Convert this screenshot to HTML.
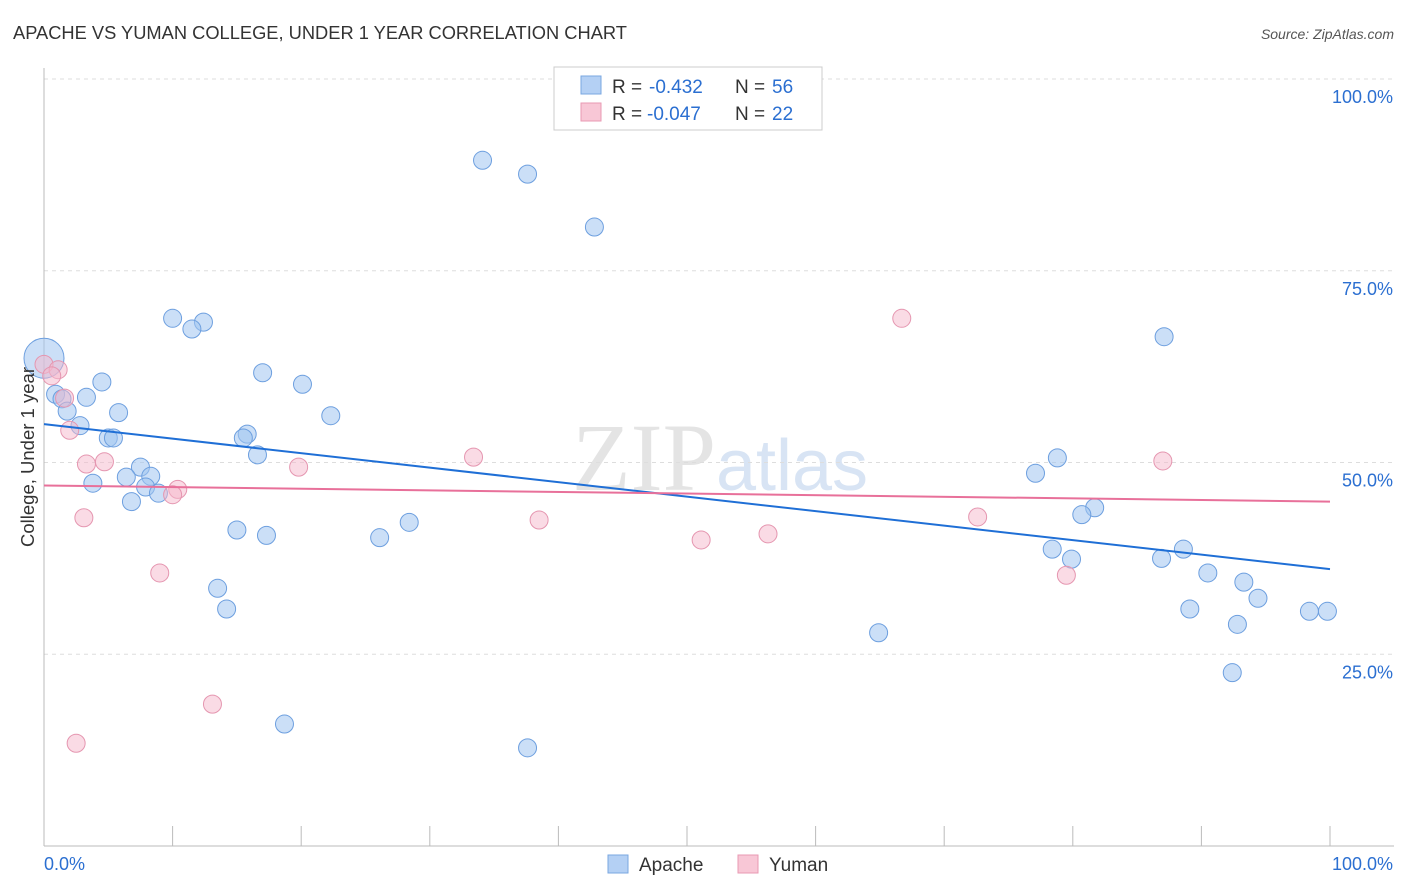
<!DOCTYPE html>
<html><head><meta charset="utf-8"><style>
body{margin:0;background:#fff;font-family:"Liberation Sans",sans-serif}
svg{display:block}
</style></head><body>
<svg id="chart" width="1406" height="892">
<text x="13" y="39" font-size="18.3" fill="#333">APACHE VS YUMAN COLLEGE, UNDER 1 YEAR CORRELATION CHART</text>
<text x="1394" y="39" font-size="14" fill="#555" font-style="italic" text-anchor="end">Source: ZipAtlas.com</text>
<text x="720" y="490" font-size="96" fill="#e4e4e4" text-anchor="middle" font-family="Liberation Serif,serif">ZIP<tspan fill="#d8e4f4" font-family="Liberation Sans,sans-serif" font-size="72">atlas</tspan></text>
<g id="grid"></g><g id="marks"></g>
<text transform="translate(34,457) rotate(-90)" font-size="18.5" fill="#333" text-anchor="middle">College, Under 1 year</text>
<g>
<rect x="554" y="67" width="268" height="63" fill="#fff" stroke="#ccc"/>
<rect x="581" y="76" width="20" height="18" fill="#b4d0f4" stroke="#7aa7e0"/>
<text x="612" y="93" font-size="19" fill="#333">R =</text>
<text x="649" y="93" font-size="19" fill="#2b6fd1">-0.432</text>
<text x="735" y="93" font-size="19" fill="#333">N =</text>
<text x="772" y="93" font-size="19" fill="#2b6fd1">56</text>
<rect x="581" y="103" width="20" height="18" fill="#f8c7d6" stroke="#e89ab3"/>
<text x="612" y="120" font-size="19" fill="#333">R =</text>
<text x="647" y="120" font-size="19" fill="#2b6fd1">-0.047</text>
<text x="735" y="120" font-size="19" fill="#333">N =</text>
<text x="772" y="120" font-size="19" fill="#2b6fd1">22</text>
</g>
<g>
<rect x="608" y="855" width="20" height="18" fill="#b4d0f4" stroke="#7aa7e0"/>
<text x="639" y="871" font-size="19" fill="#333">Apache</text>
<rect x="738" y="855" width="20" height="18" fill="#f8c7d6" stroke="#e89ab3"/>
<text x="769" y="871" font-size="19" fill="#333">Yuman</text>
</g>
</svg>
<script>
const yTicks=[25,50,75,100];
const yTickLabels=["25.0%","50.0%","75.0%","100.0%"];
const apacheX=[34.1,37.6,42.8,10.0,12.4,11.5,87.1,17.0,4.5,20.1,0.9,3.3,1.4,1.8,5.8,22.3,2.8,15.8,15.5,5.0,5.4,16.6,78.8,7.5,77.1,6.4,8.3,3.8,7.9,8.9,6.8,81.7,80.7,28.4,15.0,17.3,26.1,78.4,79.9,88.6,86.9,90.5,13.5,93.3,94.4,14.2,89.1,98.4,99.8,92.8,64.9,92.4,18.7,37.6,0];
const apacheY=[89.4,87.6,80.7,68.8,68.3,67.4,66.4,61.7,60.5,60.2,58.9,58.5,58.3,56.7,56.5,56.1,54.8,53.7,53.2,53.2,53.2,51.0,50.6,49.4,48.6,48.1,48.2,47.3,46.8,46.0,44.9,44.1,43.2,42.2,41.2,40.5,40.2,38.7,37.4,38.7,37.5,35.6,33.6,34.4,32.3,30.9,30.9,30.6,30.6,28.9,27.8,22.6,15.9,12.8,63.6];
const yumanX=[0,1.1,0.6,1.6,2.0,3.3,4.7,19.8,33.4,87.0,10.4,10.0,3.1,38.5,72.6,51.1,56.3,79.5,9.0,66.7,13.1,2.5];
const yumanY=[62.8,62.1,61.3,58.4,54.2,49.8,50.1,49.4,50.7,50.2,46.5,45.8,42.8,42.5,42.9,39.9,40.7,35.3,35.6,68.8,18.5,13.4];
const apacheTrend=[55.0,36.1];
const yumanTrend=[47.0,44.9];
const NS="http://www.w3.org/2000/svg";
const sx=v=>44+v*12.86, sy=v=>846-v*7.67;
function mk(t,a,p){const e=document.createElementNS(NS,t);for(const k in a)e.setAttribute(k,a[k]);p.appendChild(e);return e;}
const grid=document.getElementById('grid'),marks=document.getElementById('marks');
yTicks.forEach((t,i)=>{
 const l=mk('line',{x1:44,x2:1394,y1:sy(t),y2:sy(t),stroke:'#ddd','stroke-dasharray':'4,4'},grid);
 
 
 const tx=mk('text',{x:1393,y:sy(t)+24,'font-size':18,fill:'#2b6fd1','text-anchor':'end'},grid);
 tx.textContent=yTickLabels[i];
 
 
});
const ax=mk('line',{x1:44,x2:44,y1:68,y2:846,stroke:'#bbb'},grid);


const bx=mk('line',{x1:44,x2:1394,y1:846,y2:846,stroke:'#bbb'},grid);


for(let i=0;i<=10;i++){const t=mk('line',{x1:sx(i*10),x2:sx(i*10),y1:826,y2:846,stroke:'#bbb'},grid);
 
 }
[["0.0%",44,'start'],["100.0%",1393,'end']].forEach(d=>{const t=mk('text',{x:d[1],y:870,'font-size':18,fill:'#2b6fd1','text-anchor':d[2]},grid);t.textContent=d[0];
 
 });
apacheX.forEach((x,i)=>{const c=mk('circle',{cx:sx(x),cy:sy(apacheY[i]),r:i==apacheX.length-1?20:9,fill:'rgba(160,196,240,0.55)',stroke:'#6d9fdf','stroke-width':1},marks);
 
 });
yumanX.forEach((x,i)=>{const c=mk('circle',{cx:sx(x),cy:sy(yumanY[i]),r:9,fill:'rgba(246,184,204,0.5)',stroke:'#e596b0','stroke-width':1},marks);
 
 });
const l1=mk('line',{x1:sx(0),x2:sx(100),y1:sy(apacheTrend[0]),y2:sy(apacheTrend[1]),stroke:'#1f6fd6','stroke-width':2},marks);


const l2=mk('line',{x1:sx(0),x2:sx(100),y1:sy(yumanTrend[0]),y2:sy(yumanTrend[1]),stroke:'#e8709a','stroke-width':2},marks);


</script>
</body></html>
